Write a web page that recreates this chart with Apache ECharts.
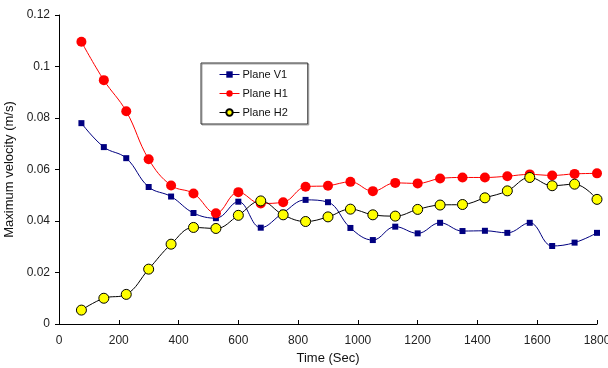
<!DOCTYPE html>
<html>
<head>
<meta charset="utf-8">
<script src="https://cdn.jsdelivr.net/npm/echarts@6/dist/echarts.min.js"></script>
<style>
  html, body { margin: 0; padding: 0; background: #fff; }
  #chart { width: 608px; height: 368px; }
</style>
</head>
<body>
<div id="chart"></div>
<script>
// time in seconds (x values)
var times = [75, 150, 225, 300, 375, 450, 525, 600, 675, 750, 825, 900,
  975, 1050, 1125, 1200, 1275, 1350, 1425, 1500, 1575, 1650, 1725, 1800];

// maximum velocity (m/s)
var planeV1 = [0.0780, 0.0687, 0.0644, 0.0532, 0.0495, 0.0431, 0.0411, 0.0475,
  0.0374, 0.0432, 0.0482, 0.0473, 0.0373, 0.0326, 0.0378, 0.0352,
  0.0393, 0.0361, 0.0362, 0.0354, 0.0393, 0.0303, 0.0316, 0.0354];
var planeH1 = [0.1096, 0.0947, 0.0826, 0.0640, 0.0538, 0.0507, 0.0430, 0.0512,
  0.0468, 0.0473, 0.0533, 0.0537, 0.0552, 0.0516, 0.0548, 0.0546,
  0.0565, 0.0569, 0.0569, 0.0574, 0.0581, 0.0577, 0.0583, 0.0585];
var planeH2 = [0.0054, 0.0100, 0.0115, 0.0213, 0.0310, 0.0375, 0.0371, 0.0422,
  0.0478, 0.0424, 0.0398, 0.0416, 0.0446, 0.0424, 0.0419, 0.0445,
  0.0462, 0.0464, 0.0490, 0.0517, 0.0569, 0.0537, 0.0543, 0.0484];

var xTicks = [0, 200, 400, 600, 800, 1000, 1200, 1400, 1600, 1800];
var yTicks = [0, 0.02, 0.04, 0.06, 0.08, 0.1, 0.12];

function pairs(ys) {
  return times.map(function (t, i) { return [t, ys[i]]; });
}

var font = 'Liberation Sans, Arial, sans-serif';
var chart = echarts.init(document.getElementById('chart'));

chart.setOption({
  animation: false,
  backgroundColor: '#fff',
  textStyle: { fontFamily: font },
  grid: { left: 59, top: 15, right: 11, bottom: 44, containLabel: false, outerBoundsMode: 'none' },
  legend: {
    orient: 'vertical',
    left: 201,
    top: 63,
    padding: [6, 20, 6, 18],
    itemGap: 8,
    itemWidth: 20,
    itemHeight: 8,
    borderColor: '#333',
    borderWidth: 1,
    shadowColor: 'rgba(0,0,0,0.35)',
    shadowOffsetX: 1,
    shadowOffsetY: 1,
    lineStyle: { width: 1 },
    textStyle: { fontFamily: font, fontSize: 11, color: '#111', padding: [0, 0, 0, -2] },
    data: ['Plane V1', 'Plane H1', 'Plane H2']
  },
  xAxis: {
    type: 'value',
    min: xTicks[0],
    max: xTicks[xTicks.length - 1],
    interval: xTicks[1] - xTicks[0],
    name: 'Time (Sec)',
    nameLocation: 'middle',
    nameGap: 27,
    nameTextStyle: { fontFamily: font, fontSize: 13, color: '#111' },
    axisLine: { lineStyle: { color: '#000', width: 1 } },
    axisTick: { inside: true, length: 4, lineStyle: { color: '#000' } },
    axisLabel: {
      margin: 11, fontFamily: font, fontSize: 12, color: '#222',
      formatter: function (v) { return String(v); }
    },
    splitLine: { show: false }
  },
  yAxis: {
    type: 'value',
    min: yTicks[0],
    max: yTicks[yTicks.length - 1],
    interval: yTicks[1] - yTicks[0],
    name: 'Maximum velocity (m/s)',
    nameLocation: 'middle',
    nameGap: 36,
    nameTextStyle: { fontFamily: font, fontSize: 13, color: '#111' },
    axisLine: { show: true, lineStyle: { color: '#000', width: 1 } },
    axisTick: { show: true, length: 4, lineStyle: { color: '#000' } },
    axisLabel: { margin: 9, fontFamily: font, fontSize: 12, color: '#222' },
    splitLine: { show: false }
  },
  series: [
    {
      name: 'Plane V1',
      type: 'line',
      smooth: 0.4,
      symbol: 'rect',
      symbolSize: 6,
      color: '#000080',
      lineStyle: { color: '#000080', width: 1 },
      itemStyle: { color: '#000080' },
      data: pairs(planeV1)
    },
    {
      name: 'Plane H1',
      type: 'line',
      smooth: 0.4,
      symbol: 'circle',
      symbolSize: 10,
      color: '#ff0000',
      lineStyle: { color: '#ff0000', width: 1 },
      itemStyle: { color: '#ff0000' },
      data: pairs(planeH1)
    },
    {
      name: 'Plane H2',
      type: 'line',
      smooth: 0.4,
      symbol: 'circle',
      symbolSize: 10,
      color: '#ffff00',
      lineStyle: { color: '#000', width: 1 },
      itemStyle: { color: '#ffff00', borderColor: '#000', borderWidth: 1 },
      data: pairs(planeH2)
    }
  ]
});
</script>
</body>
</html>
